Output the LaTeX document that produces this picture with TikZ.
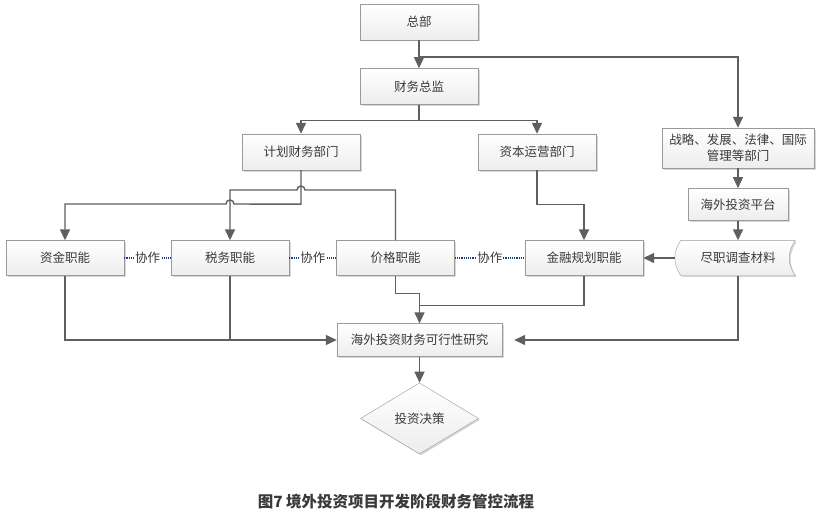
\documentclass[tikz,border=0pt]{standalone}
\usepackage{fontspec}
\setmainfont{Noto Sans CJK SC}
\usetikzlibrary{positioning,arrows.meta,shapes.geometric,shadows,backgrounds}
\definecolor{edge}{HTML}{5F5F5F}
\definecolor{rim}{HTML}{9A9A9A}
\definecolor{ink}{HTML}{3A3A3A}
\definecolor{navy}{HTML}{1F3C88}

\begin{document}
\begin{tikzpicture}[x=1pt,y=-1pt,
  node distance=20pt,
  txt/.style={text=ink,minimum width=118pt,minimum height=35pt,inner sep=2pt,align=center,
              font=\fontsize{12.5}{16}\selectfont},
  box/.style={txt,draw=rim,top color=white,bottom color=gray!14,
              drop shadow={shadow xshift=1.5pt,shadow yshift=-1.5pt,opacity=0.3,fill=gray}},
  flow/.style={-{Triangle[length=11pt,width=10pt]},draw=edge,line width=1.4pt},
  link/.style={draw=edge,line width=1.4pt},
  coop/.style={navy,densely dotted,line width=1.2pt},
  tag/.style={fill=white,text=ink,inner sep=1pt,font=\fontsize{12.5}{15}\selectfont}
]
\useasboundingbox (0,0) rectangle (821,519);

% top of the chart
\node[box,minimum height=36pt] (hq) at (419,22) {总部};
\node[box,minimum height=36pt,below=28pt of hq] (cfo) {财务总监};
\node[box,minimum height=36pt] (plan) at (301,152) {计划财务部门};
\node[box,minimum height=36pt] (capital) at (537,152) {资本运营部门};
\node[box,minimum width=152pt,minimum height=40pt] (strat) at (738,148) {战略、发展、法律、国际\\管理等部门};
\node[box,minimum width=100pt,minimum height=32pt,below=of strat] (platform) {海外投资平台};
\node[txt,minimum width=114pt] (dd) at (738,258) {尽职调查材料};

% functions row
\node[box] (fund) at (65,258) {资金职能};
\node[box] (tax) at (230,258) {税务职能};
\node[box] (price) at (395.5,258) {价格职能};
\node[box] (finplan) at (584,258) {金融规划职能};

% study and decision
\node[box,minimum width=165pt,minimum height=33pt] (study) at (419.5,340) {海外投资财务可行性研究};
\node[box,diamond,aspect=1.66,inner sep=0pt,minimum width=118pt,minimum height=71pt,
      below=26pt of study] (decide) {投资决策};
\node[text=ink,font=\bfseries\fontsize{15.5}{18}\selectfont] (title) at (396,502)
  {图7 境外投资项目开发阶段财务管控流程};

\begin{scope}[on background layer]
\fill[white] (0,0) rectangle (821,519);
\path[draw=rim,top color=white,bottom color=gray!14,
      drop shadow={shadow xshift=1.5pt,shadow yshift=-1.5pt,opacity=0.3,fill=gray}]
  (dd.north west) -- (dd.north east) .. controls +(-8,12) and +(-8,-12) .. (dd.south east)
  -- (dd.south west) .. controls +(-8,-12) and +(-8,12) .. (dd.north west) -- cycle;
\end{scope}

% connectors
\coordinate (fork) at (419,57);
\draw[flow] (hq) -- (cfo);
\draw[flow] (fork) -| (strat);
\draw[flow] (cfo.south) -- ++(0,16) -| (plan);
\draw[flow] (cfo.south) -- ++(0,16) -| (capital);
\draw[flow] (plan.south) -- ++(0,34) -- (234,204) arc[start angle=0,end angle=180,radius=4pt]
  -- (65,204) -- (fund);
\draw[flow] (price.north) -- (395.5,190) -- (305,190) arc[start angle=0,end angle=180,radius=4pt]
  -- (230,190) -- (tax);
\draw[flow] (capital.south) -- ++(0,34) -| (finplan);
\draw[flow] (strat) -- (platform);
\draw[flow] (platform) -- (dd);
\draw[flow,shorten <=6pt] (dd.west) -- (finplan.east);
\draw[flow] (price.south) -- ++(0,18) -| (study);
\draw[link] (finplan.south) -- ++(0,30) -| (study.north);
\draw[flow] (fund.south) |- (study.west);
\draw[link] (tax.south) -- (tax.south |- study.west);
\draw[flow,shorten >=12pt] (dd.south) |- (study.east);
\draw[flow] (study) -- (decide);

% cooperation links
\draw[coop] (fund) -- node[tag]{协作} (tax);
\draw[coop] (tax) -- node[tag]{协作} (price);
\draw[coop] (price) -- node[tag]{协作} (finplan);
\end{tikzpicture}
\end{document}
